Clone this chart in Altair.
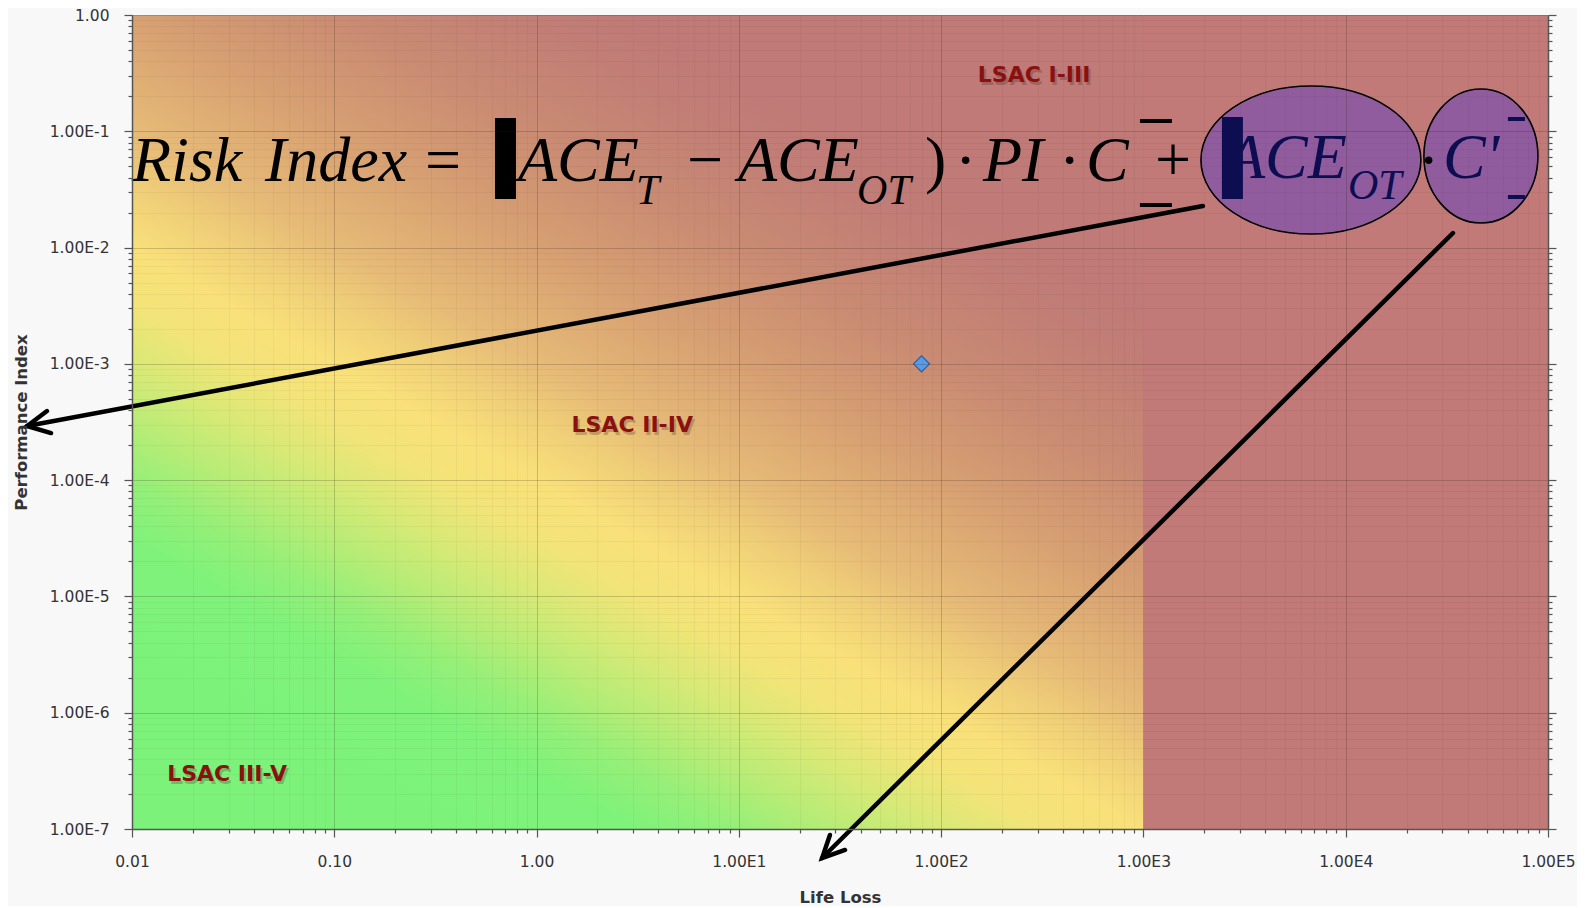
import math
import altair as alt
import pandas as pd

# ---------------- axes ----------------
x_tick_values = [0.01, 0.1, 1, 10, 100, 1000, 10000, 100000]
x_tick_labels = ["0.01", "0.10", "1.00", "1.00E1", "1.00E2", "1.00E3", "1.00E4", "1.00E5"]
y_tick_values = [1e-7, 1e-6, 1e-5, 1e-4, 1e-3, 1e-2, 1e-1, 1]
y_tick_labels = ["1.00E-7", "1.00E-6", "1.00E-5", "1.00E-4", "1.00E-3", "1.00E-2", "1.00E-1", "1.00"]
x_title = "Life Loss"
y_title = "Performance Index"

# ---------------- data point ----------------
point_life_loss = [80]
point_perf_index = [1e-3]

# ---------------- region labels ----------------
region_labels = ["LSAC I-III", "LSAC II-IV", "LSAC III-V"]
region_x = [288, 2.97, 0.0295]
region_y = [0.305, 2.98e-4, 2.97e-7]

# ---------------- background zones ----------------
zone_x = [0.01, 1000]
zone_x2 = [1000, 100000]
zone_y = [1e-7, 1e-7]
zone_y2 = [1, 1]

# ---------------- formula annotation (data units) ----------------
ital_text = ["Risk", "Index", "ACE", "ACE", "PI", "C", "ACE", "C'"]
ital_x = [0.0100, 0.04544, 0.809, 9.90, 160.9, 519.7, 2557, 30240]
ital_y = [0.03737, 0.03737, 0.03737, 0.03737, 0.03737, 0.03737, 0.03966, 0.03966]
ital_col = ["#000000"] * 6 + ["#0d0d52"] * 2

sub_text = ["T", "OT", "OT"]
sub_x = [3.100, 38.4, 10254]
sub_y = [0.02369, 0.02369, 0.02617]
sub_col = ["#000000", "#000000", "#0d0d52"]

up_text = ["=", "\u2212", ")", "\u00b7", "\u00b7", "+", "\u00b7"]
up_x = [0.2808, 5.54, 83.2, 117.0, 382.2, 1140, 22750]
up_y = [0.03737] * 7
up_col = ["#000000"] * 7

bar_x = [0.6229, 960.9, 960.9, 2444, 63370, 63370]
bar_x2 = [0.7910, 1383, 1383, 3103, 76890, 76890]
bar_y = [0.1301, 0.1276, 0.02417, 0.1327, 0.1327, 0.02832]
bar_y2 = [0.02617, 0.1178, 0.02234, 0.02617, 0.1226, 0.02617]
bar_col = ["#000000"] * 3 + ["#0d0d52"] * 3

ellipse1_x, ellipse1_y = [6730], [0.05663]
ellipse2_x, ellipse2_y = [46600], [0.06131]

arrow_x = [1968, 0.00303, 0.0038, 0.00303, 0.00398,
           33900, 25.8, 33.5, 25.8, 28.2]
arrow_y = [0.0228, 2.92e-4, 3.93e-4, 2.92e-4, 2.54e-4,
           0.01334, 5.63e-8, 6.6e-8, 5.63e-8, 8.89e-8]
arrow_seg = ["a1", "a1", "h1", "h1", "h1", "a2", "a2", "h2", "h2", "h2"]
arrow_ord = [0, 1, 0, 1, 2, 0, 1, 0, 1, 2]

# ---------------- scales / axes ----------------
xscale = alt.Scale(type="log", domain=[0.01, 100000], nice=False)
yscale = alt.Scale(type="log", domain=[1e-7, 1], nice=False)

x_minor = [k * v for v in x_tick_values[:-1] for k in range(2, 10)]
y_minor = [k * v for v in y_tick_values[:-1] for k in range(2, 10)]
y_all = sorted(set(y_tick_values + y_minor))

major = "abs(log(datum.value)/LN10 - round(log(datum.value)/LN10)) < 0.001"


def label_expr(values, labels):
    parts = [
        f"abs(log(datum.value)/LN10 - ({round(math.log10(v))})) < 0.001 ? '{lab}'"
        for v, lab in zip(values, labels)
    ]
    return " : ".join(parts) + " : ''"


common_axis = dict(
    labelFont="DejaVu Sans", labelFontSize=15.5, labelColor="#333333",
    titleFont="DejaVu Sans", titleFontSize=16.5, titleFontWeight="bold", titleColor="#333333",
    domainColor="#555555", domainWidth=1.5, tickColor="#555555", tickWidth=1.2,
    tickSize=8, gridColor="#2a1a10", gridOpacity=0.2,
    labelOverlap=False, labelFlush=False, zindex=1,
)

x_axis = alt.Axis(values=x_tick_values, labelExpr=label_expr(x_tick_values, x_tick_labels),
                  orient="bottom", title=x_title, grid=True, labelPadding=17,
                  titleX=708, titleY=73, titleBaseline="alphabetic", titleAlign="center",
                  **common_axis)
y_axis = alt.Axis(values=y_tick_values, labelExpr=label_expr(y_tick_values, y_tick_labels),
                  orient="left", title=y_title, grid=True, labelPadding=15,
                  titleX=-111, titleY=407, titleAngle=270, titleBaseline="middle",
                  titleAlign="center", **common_axis)

minor_common = dict(labels=False, title=None, grid=True, domain=False,
                    tickColor="#555555", tickWidth=1.2, tickSize=4,
                    gridColor="#2a1a10", gridOpacity=0.045, zindex=1)
x_minor_axis = alt.Axis(values=x_minor, orient="bottom", **minor_common)
y_minor_axis = alt.Axis(values=y_minor, orient="left", **minor_common)


def X(field="x", axis=None):
    return alt.X(f"{field}:Q", scale=xscale, axis=axis, title=None)


def Y(field="y", axis=None):
    return alt.Y(f"{field}:Q", scale=yscale, axis=axis, title=None)


# ---------------- background ----------------
grad = {
    "gradient": "linear",
    "x1": 0, "y1": 0.7857, "x2": 0.5405, "y2": 0.0290,
    "stops": [
        {"offset": 0.0, "color": "#7df27a"},
        {"offset": 0.125, "color": "#7ff27a"},
        {"offset": 0.1875, "color": "#95ef78"},
        {"offset": 0.25, "color": "#b8ec76"},
        {"offset": 0.3125, "color": "#d8e976"},
        {"offset": 0.375, "color": "#f2e478"},
        {"offset": 0.4375, "color": "#f9e07a"},
        {"offset": 0.5, "color": "#f0d078"},
        {"offset": 0.5625, "color": "#e6bb77"},
        {"offset": 0.6875, "color": "#d7a072"},
        {"offset": 0.8125, "color": "#c98b73"},
        {"offset": 0.9375, "color": "#c17d76"},
        {"offset": 1.0, "color": "#c07a77"},
    ],
}

zones = pd.DataFrame({"x": zone_x, "x2": zone_x2, "y": zone_y, "y2": zone_y2})
bg = alt.Chart(zones.iloc[[0]]).mark_rect(color=grad).encode(
    x=X(), x2="x2:Q", y=Y(), y2="y2:Q")
solid = alt.Chart(zones.iloc[[1]]).mark_rect(color="#c17a77").encode(
    x=X(), x2="x2:Q", y=Y(), y2="y2:Q")

# ---------------- region labels ----------------
reg = pd.DataFrame({"t": region_labels, "x": region_x, "y": region_y})
reg_shadow = alt.Chart(reg).mark_text(font="DejaVu Sans", fontWeight="bold", fontSize=22,
                                      color="#3a2418", opacity=0.25, dx=2, dy=3).encode(
    x=X(), y=Y(), text="t:N")
reg_text = alt.Chart(reg).mark_text(font="DejaVu Sans", fontWeight="bold", fontSize=22,
                                    color="#8b1010").encode(x=X(), y=Y(), text="t:N")

# ---------------- ellipses ----------------
e1 = alt.Chart(pd.DataFrame({"x": ellipse1_x, "y": ellipse1_y})).mark_point(
    shape="M -1 0 A 1 0.673 0 1 0 1 0 A 1 0.673 0 1 0 -1 0 Z",
    size=48400, filled=True, fill="#8d5b9f", fillOpacity=0.95,
    stroke="#000000", strokeWidth=1.6, opacity=1).encode(x=X(), y=Y())
e2 = alt.Chart(pd.DataFrame({"x": ellipse2_x, "y": ellipse2_y})).mark_point(
    shape="M -0.851 0 A 0.851 1 0 1 0 0.851 0 A 0.851 1 0 1 0 -0.851 0 Z",
    size=17956, filled=True, fill="#8d5b9f", fillOpacity=0.95,
    stroke="#000000", strokeWidth=1.6, opacity=1).encode(x=X(), y=Y())

# ---------------- formula ----------------
bars = alt.Chart(pd.DataFrame({"x": bar_x, "x2": bar_x2, "y": bar_y, "y2": bar_y2,
                               "c": bar_col})).mark_rect().encode(
    x=X(), x2="x2:Q", y=Y(), y2="y2:Q", color=alt.Color("c:N", scale=None))

ital = alt.Chart(pd.DataFrame({"t": ital_text, "x": ital_x, "y": ital_y, "c": ital_col})).mark_text(
    font="Liberation Serif", fontStyle="italic", fontSize=64, align="left", baseline="alphabetic").encode(
    x=X(), y=Y(), text="t:N", color=alt.Color("c:N", scale=None))
sub = alt.Chart(pd.DataFrame({"t": sub_text, "x": sub_x, "y": sub_y, "c": sub_col})).mark_text(
    font="Liberation Serif", fontStyle="italic", fontSize=42, align="left", baseline="alphabetic").encode(
    x=X(), y=Y(), text="t:N", color=alt.Color("c:N", scale=None))
up = alt.Chart(pd.DataFrame({"t": up_text, "x": up_x, "y": up_y, "c": up_col})).mark_text(
    font="Liberation Serif", fontSize=64, align="left", baseline="alphabetic").encode(
    x=X(), y=Y(), text="t:N", color=alt.Color("c:N", scale=None))

# ---------------- arrows ----------------
arrows = alt.Chart(pd.DataFrame({"x": arrow_x, "y": arrow_y, "seg": arrow_seg,
                                 "o": arrow_ord})).mark_line(
    color="#000000", strokeWidth=4.5, strokeCap="round", strokeJoin="miter").encode(
    x=X(), y=Y(), detail="seg:N", order="o:Q")

# ---------------- data point ----------------
pts = pd.DataFrame({"x": point_life_loss, "y": point_perf_index})
point = alt.Chart(pts).mark_point(shape="diamond", filled=True, size=260,
                                  fill="#5b9ae6", stroke="#2f5f9e", strokeWidth=1.2,
                                  opacity=1).encode(x=X(), y=Y())

main = alt.layer(bg, solid, reg_shadow, reg_text, e1, e2, bars, ital, sub, up, arrows, point)

# major axes (labels, major ticks, major grid)
major_layer = alt.Chart(pts).mark_point(opacity=0).encode(
    x=alt.X("x:Q", scale=xscale, axis=x_axis, title=x_title),
    y=alt.Y("y:Q", scale=yscale, axis=y_axis, title=y_title))

# minor ticks / minor grid
minor = alt.Chart(pts).mark_point(opacity=0).encode(
    x=alt.X("x:Q", scale=xscale, axis=x_minor_axis, title=None),
    y=alt.Y("y:Q", scale=yscale, axis=y_minor_axis, title=None))

# right-hand axis (ticks only)
right_axis = alt.Axis(values=y_all, labels=False, title=None, grid=False,
                      orient="right", domainColor="#555555", domainWidth=1.5,
                      tickColor="#555555", tickWidth=1.2,
                      tickSize={"condition": {"test": major, "value": 8}, "value": 4},
                      zindex=1)
right = alt.Chart(pts).mark_point(opacity=0).encode(
    x=alt.X("x:Q", scale=xscale, axis=None, title=None),
    y=alt.Y("y:Q", scale=yscale, axis=right_axis, title=None))

chart = alt.layer(main, major_layer, minor, right).resolve_scale(
    x="independent", y="independent").properties(
    width=1416, height=814,
    autosize="none",
    padding={"left": 124, "top": 7, "right": 29, "bottom": 77},
    background="#f8f8f9",
).configure_view(stroke=None)

chart.save("out.html", embed_options={"renderer": "svg", "actions": False})
